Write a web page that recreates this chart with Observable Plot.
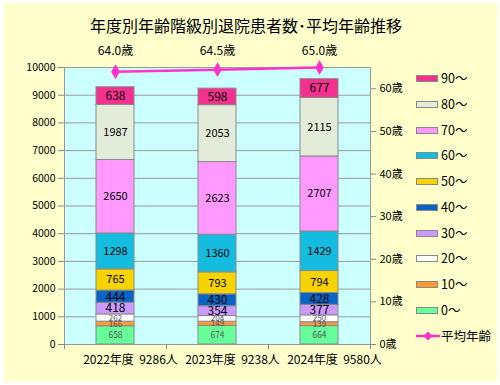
<!DOCTYPE html>
<html><head><meta charset="utf-8">
<script src="https://cdn.jsdelivr.net/npm/d3@7"></script>
<script src="https://cdn.jsdelivr.net/npm/@observablehq/plot@0.6"></script>
<style>
body{margin:0;background:#fff;font-family:"Noto Sans CJK JP",sans-serif;}
#wrap{position:relative;width:500px;height:385px;overflow:hidden;}
#bg{position:absolute;left:4px;top:3px;width:493px;height:379px;background:#ffffcc;}
#title{position:absolute;left:0;width:492px;top:15px;text-align:center;font-size:16px;line-height:20px;color:#000;}
#chart{position:absolute;left:0;top:0;}
.leg{position:absolute;left:416px;height:14px;font-size:12.5px;line-height:14px;color:#000;white-space:nowrap;}
.sw{display:inline-block;width:20px;height:5px;border:1px solid #888;vertical-align:middle;margin-right:3px;position:relative;top:-1px;}
</style>
</head><body>
<div id="wrap"><div id="bg"></div><div id="title">年度別年齢階級別退院患者数･平均年齢推移</div><div id="chart"></div><div id="legend"></div></div>
<script>
// ---- data ----
const years = ["2022年度", "2023年度", "2024年度"];
const totals = [9286, 9238, 9580];
const ageGroups = ["0～", "10～", "20～", "30～", "40～", "50～", "60～", "70～", "80～", "90～"];
const fy2022 = [658, 166, 262, 418, 444, 765, 1298, 2650, 1987, 638];
const fy2023 = [674, 149, 204, 354, 430, 793, 1360, 2623, 2053, 598];
const fy2024 = [664, 139, 250, 377, 428, 794, 1429, 2707, 2115, 677];
const avgAge = [64.0, 64.5, 65.0];
const countTicks = [0, 1000, 2000, 3000, 4000, 5000, 6000, 7000, 8000, 9000, 10000];
const ageTicks = [0, 10, 20, 30, 40, 50, 60];
const groupColors = ["#66ff99", "#ff9933", "#ffffff", "#cc99ff", "#0a64c4", "#f7d400", "#14bce0", "#ff99ff", "#e2ecd8", "#f5318f"];
const lineColor = "#ff33cc";

const COUNT_MAX = 10000, AGE_MAX = 65;
const ageToY = a => a * COUNT_MAX / AGE_MAX;

const series = [fy2022, fy2023, fy2024];
const rows = [];
years.forEach((y, i) => ageGroups.forEach((g, j) => rows.push({year: y, group: g, gi: j, value: series[i][j]})));
const ageRows = years.map((y, i) => ({year: y, age: avgAge[i]}));
const labelRows = years.map((y, i) => ({year: y, label: y + "  " + totals[i] + "人"}));

const small = new Set([0, 1, 2]);
const sizeOf = d => d.gi === 0 ? 8.5 : d.gi < 3 ? 8 : (d.gi >= 5 && d.gi <= 8 ? 11 : 12);

const chart = Plot.plot({
  width: 500, height: 385,
  marginLeft: 64, marginRight: 130, marginTop: 67, marginBottom: 41,
  style: {background: "transparent", fontFamily: "'Noto Sans CJK JP', sans-serif", color: "#000"},
  x: {domain: years, paddingInner: 0.627, paddingOuter: 0.3135, axis: null},
  y: {domain: [0, COUNT_MAX]},
  color: {domain: ageGroups, range: groupColors},
  marks: [
    Plot.frame({fill: "#ccffff"}),
    Plot.gridY({ticks: countTicks, stroke: "#9a9a9a", strokeOpacity: 1}),
    Plot.barY(rows, {x: "year", y: "value", fill: "group", stroke: "#8a8a8a", strokeWidth: 1}),
    Plot.text(rows, Plot.stackY({x: "year", y: "value", z: "group", text: d => small.has(d.gi) ? null : String(d.value), fontSize: sizeOf, fill: "#000"})),
    Plot.text(rows, Plot.stackY({x: "year", y: "value", z: "group", text: d => small.has(d.gi) ? String(d.value) : null, fontSize: sizeOf, fill: "#555"})),
    Plot.frame({stroke: "#999"}),
    Plot.axisY({anchor: "left", ticks: countTicks, tickFormat: d => String(d), tickSize: 6, tickPadding: 3, fontSize: 10.5, stroke: "#888", label: null}),
    Plot.axisY({anchor: "right", ticks: ageTicks.map(ageToY), tickFormat: d => Math.round(d * AGE_MAX / COUNT_MAX) + "歳", tickSize: 5, tickPadding: 4, fontSize: 11, stroke: "#888", label: null}),
    Plot.axisX({tickFormat: () => "", tickSize: 5, dx: -51, stroke: "#888", label: null}),
    Plot.axisX({ticks: [years[years.length - 1]], tickFormat: () => "", tickSize: 5, dx: 51, stroke: "#888", label: null}),
    Plot.text(labelRows, {x: "year", text: "label", frameAnchor: "bottom", dy: 19, dx: 15, fontSize: 12}),
    Plot.line(ageRows, {x: "year", y: d => ageToY(d.age), stroke: lineColor, strokeWidth: 2.5}),
    Plot.dot(ageRows, {x: "year", y: d => ageToY(d.age), symbol: "diamond", fill: lineColor, r: 4.5}),
    Plot.text(ageRows, {x: "year", text: d => d.age.toFixed(1) + "歳", frameAnchor: "top", dy: -21, fontSize: 12})
  ]
});
document.getElementById("chart").appendChild(chart);

// ---- legend ----
const legend = document.getElementById("legend");
const order = ageGroups.slice().reverse();
const colorsRev = groupColors.slice().reverse();
order.forEach((g, k) => {
  const div = document.createElement("div");
  div.className = "leg";
  div.style.top = (78 + k * 25.75 - 7) + "px";
  div.innerHTML = `<span class="sw" style="background:${colorsRev[k]}"></span>${g}`;
  legend.appendChild(div);
});
const lineLeg = document.createElement("div");
lineLeg.className = "leg";
lineLeg.style.top = (78 + 10 * 25.75 - 7) + "px";
lineLeg.innerHTML = `<svg width="24" height="10" style="vertical-align:middle;margin-right:1px;position:relative;top:-1px"><line x1="0" y1="5" x2="24" y2="5" stroke="${lineColor}" stroke-width="2.5"/><path d="M12,0.5L16.5,5L12,9.5L7.5,5Z" fill="${lineColor}"/></svg>平均年齢`;
legend.appendChild(lineLeg);
</script>
</body></html>
